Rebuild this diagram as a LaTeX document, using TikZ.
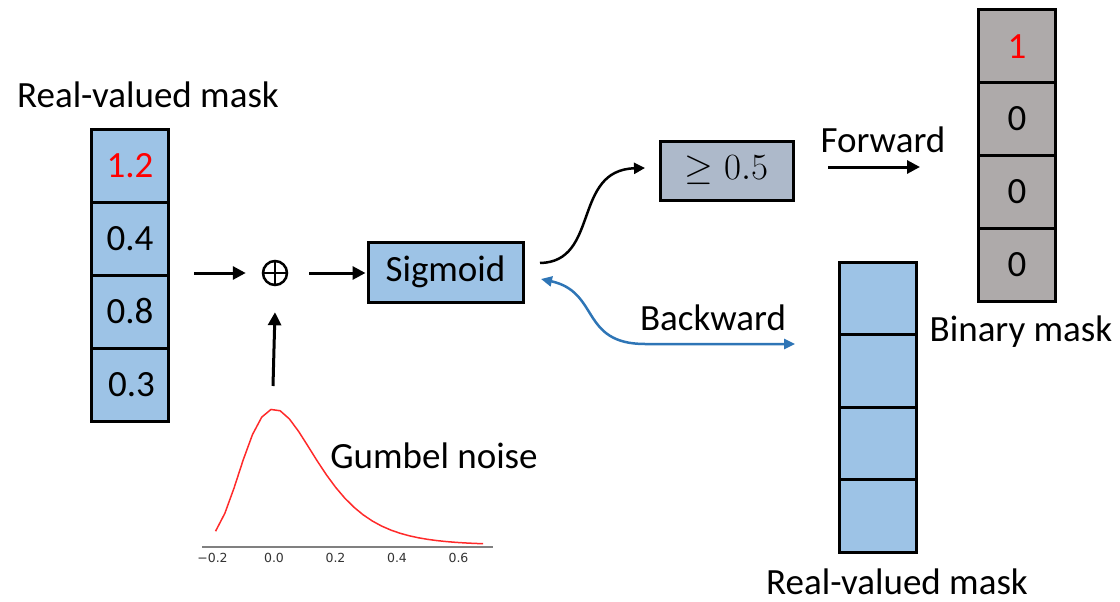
\RequirePackage{fix-cm}
\documentclass[tikz,border=0pt]{standalone}
\usepackage{fontspec}
\setmainfont{Carlito}
\newfontfamily\tickfont{DejaVu Sans}
\usetikzlibrary{arrows.meta,calc}
\definecolor{maskblue}{HTML}{9DC3E6}
\definecolor{gateblue}{HTML}{ADB9CA}
\definecolor{bingray}{HTML}{AEAAAA}
\definecolor{backblue}{HTML}{2E75B6}
\definecolor{axisgray}{HTML}{808080}
\definecolor{ticktext}{HTML}{333333}
\definecolor{curvered}{HTML}{FF2A2A}
\begin{document}
\begin{tikzpicture}[x=1pt,y=-1pt,
  big/.style={font=\fontsize{37}{43}\selectfont},
  lbl/.style={big, inner sep=0pt},
  cell/.style={draw, line width=3pt, minimum width=77pt, minimum height=73pt,
               inner sep=0pt, big},
  bluecell/.style={cell, fill=maskblue},
  graycell/.style={cell, fill=bingray},
  opbox/.style={draw, line width=3pt, inner sep=0pt, big},
  flow/.style={line width=3pt, -{Triangle[length=13pt,width=13pt]}},
  thinflow/.style={line width=2.5pt, -{Triangle[length=11pt,width=11pt]}},
  backflow/.style={line width=2.5pt, backblue,
                   {Triangle[length=11pt,width=10pt]}-{Triangle[length=11pt,width=10pt]}},
  tick/.style={font=\tickfont\fontsize{12.5}{14}\selectfont, text=ticktext, inner sep=0pt}
]
\useasboundingbox (0,0) rectangle (1120,602);

% input real-valued mask
\node[lbl] (lmasklbl) at (148,95) {Real-valued mask};
\node[bluecell, text=red] (l1) at (130,165.5) {1.2};
\node[bluecell] (l2) at (130,238.5) {0.4};
\node[bluecell] (l3) at (130,311.5) {0.8};
\node[bluecell] (l4) at (130,385) {\hspace{3pt}0.3};

% noise addition
\node[circle, draw, line width=2.5pt, minimum size=24pt, inner sep=0pt,
      path picture={\draw[line width=2.5pt]
        (path picture bounding box.north) -- (path picture bounding box.south)
        (path picture bounding box.west) -- (path picture bounding box.east);}]
      (plus) at (275,273) {};

% sigmoid and threshold
\node[opbox, fill=maskblue, minimum width=155pt, minimum height=60pt] (sig) at (445.5,272) {Sigmoid};
\node[opbox, fill=gateblue, minimum width=133pt, minimum height=59pt] (ge) at (726.5,170.5) {$\geq 0.5$};

% binary mask
\node[graycell, text=red] (b1) at (1017,46.5) {1};
\node[graycell] (b2) at (1017,119) {0};
\node[graycell] (b3) at (1017,191.5) {0};
\node[graycell] (b4) at (1017,265) {0};
\node[lbl] (binlbl) at (1021,332) {Binary mask};

% relaxed mask used in the backward pass
\node[bluecell, minimum height=72.5pt] (r1) at (878,298.5) {};
\node[bluecell, minimum height=72.5pt] (r2) at (878,371) {};
\node[bluecell, minimum height=72.5pt] (r3) at (878,443.5) {};
\node[bluecell, minimum height=72.5pt] (r4) at (878,516) {};
\node[lbl] (rmasklbl) at (897,582) {Real-valued mask};

% Gumbel density
\draw[axisgray, line width=1.5pt] (202,547) -- (493,547);
\foreach \v/\t in {-0.2/{−0.2}, 0/{0.0}, 0.2/{0.2}, 0.4/{0.4}, 0.6/{0.6}}
  \node[tick] at ({274+307.5*\v},558) {\t};
\draw[curvered, line width=1.5pt, line join=round]
  plot[domain=-0.19:0.68, samples=30]
  ({274+307.5*\x}, {545-136*exp(1-\x/0.12-exp(-\x/0.12))});
\node[lbl] (gumlbl) at (434,456) {Gumbel noise};
\coordinate (noise) at (273,386);

% connectors
\draw[flow, shorten <=24pt, shorten >=16pt] (l2.east |- plus) -- (plus.west);
\draw[flow, shorten <=21pt, shorten >=1pt] (plus.east) -- (sig.west |- plus);
\draw[flow, shorten >=1pt] (noise) -- ([yshift=-25pt]plus.south);

\coordinate (fwdstart) at (540,263);
\coordinate (fwdend) at (645,168);
\draw[thinflow] (fwdstart) .. controls (600,262) and (572,170) .. (fwdend);

\coordinate (fa) at (828,167);
\coordinate (fb) at (920,167);
\draw[flow] (fa) -- (fb);
\node[lbl] (fwdlbl) at (883,140) {Forward};

\coordinate (bwdtip) at (541,279);
\coordinate (bwdend) at (795,344);
\draw[backflow] (bwdtip) .. controls (600,292) and (580,344) .. (645,344) -- (bwdend);
\node[lbl] (bwdlbl) at (713,318) {Backward};
\end{tikzpicture}
\end{document}
